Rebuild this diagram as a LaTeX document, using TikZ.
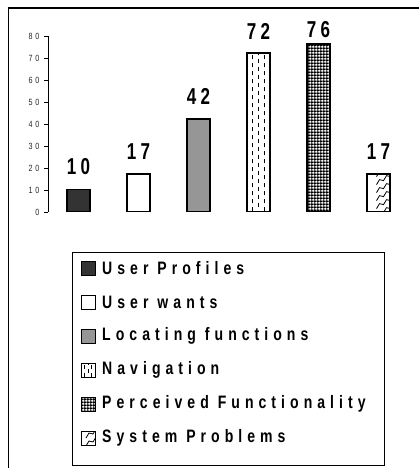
\documentclass[tikz,border=0pt]{standalone}
\usepackage{fontspec}
\setmainfont{Liberation Sans}
\newfontfamily\valfont[FakeStretch=0.74,LetterSpace=19]{Liberation Sans}
\newfontfamily\keyfont[FakeStretch=0.78,LetterSpace=28]{Liberation Sans}
\newfontfamily\tickfont[FakeStretch=0.8,LetterSpace=30]{Liberation Sans}
\usetikzlibrary{positioning,calc,patterns.meta}

\definecolor{darkbar}{HTML}{333333}
\definecolor{midbar}{HTML}{969696}

\tikzdeclarepattern{
  name=finechecker,
  type=uncolored,
  bottom left={(0pt,0pt)},
  top right={(2.8pt,2.8pt)},
  tile size={(2.8pt,2.8pt)},
  code={\fill (0pt,0pt) rectangle (2.8pt,1.5pt);
        \fill (0pt,1.5pt) rectangle (1.5pt,2.8pt);}
}

\begin{document}
\begin{tikzpicture}[
  x=1pt, y=-1pt,
  bar/.style    ={draw=black,line width=1.3pt,minimum width=23pt,inner sep=0pt,anchor=south},
  val/.style    ={font=\valfont\bfseries\fontsize{23}{23}\selectfont,inner sep=0pt},
  ticklbl/.style={font=\tickfont\fontsize{9}{9}\selectfont,anchor=east,inner sep=0pt,text=black!85},
  keytext/.style={font=\keyfont\bfseries\fontsize{18}{18}\selectfont,anchor=west,inner sep=0pt},
  keybox/.style ={draw=black,line width=0.8pt,minimum size=14pt,inner sep=0pt},
  dashfill/.style={path picture={
    \foreach \f/\p in {0.22/0,0.5/4,0.78/0}{
      \draw[line width=0.9pt,dash pattern=on 4pt off 4pt,dash phase=\p pt]
        ($(path picture bounding box.south west)!\f!(path picture bounding box.south east)$) --
        ($(path picture bounding box.north west)!\f!(path picture bounding box.north east)$);}}},
  wavefill/.style={path picture={
    \begin{scope}[shift={(path picture bounding box.south west)}]
      \foreach \s in {-48,-40,...,48}{
        \draw[line width=0.8pt] (-2pt,\s pt) \foreach \i in {1,...,5}{ -- ++(3pt,5pt) -- ++(4pt,-1pt)};}
    \end{scope}}}]

\useasboundingbox (0,0) rectangle (419,468);

%---------------- frame ----------------
\draw[line width=1pt] (8,468) -- (8,8);
\draw[line width=1.8pt] (7.5,8) -- (419,8);

%---------------- value axis ----------------
\draw[line width=0.8pt] (48,36) -- (48,212);
\foreach \v in {0,10,...,80}{
  \draw[line width=0.8pt] (44,212-2.2*\v) -- (48,212-2.2*\v);
  \node[ticklbl] (t\v) at (39.5,212-2.2*\v) {\v};}

%---------------- bars ----------------
\node[bar,fill=darkbar,minimum height=22pt]   (b1) at (78.5,212) {};
\node[bar,fill=white,minimum height=37.4pt]   (b2) at (138.5,212) {};
\node[bar,fill=midbar,minimum height=92.4pt]  (b3) at (198.5,212) {};
\node[bar,fill=white,dashfill,minimum height=158.4pt] (b4) at (258.5,212) {};
\node[bar,fill=white,pattern=finechecker,minimum height=167.2pt] (b5) at (318.5,212) {};
\node[bar,fill=white,wavefill,minimum height=37.4pt] (b6) at (378.5,212) {};

\node[val,above=14pt of b1] (v1) {10};
\node[val,above=14pt of b2] (v2) {17};
\node[val,above=14pt of b3] (v3) {42};
\node[val,above=13pt of b4] (v4) {72};
\node[val,above=6pt of b5]  (v5) {76};
\node[val,above=14pt of b6] (v6) {17};

%---------------- legend ----------------
\draw[line width=0.8pt] (72,252) rectangle (384,465);
\node[keybox,fill=darkbar]                (k1) at (88,268) {};
\node[keybox,fill=white]                  (k2) at (88,302) {};
\node[keybox,fill=midbar]                 (k3) at (88,336) {};
\node[keybox,fill=white,dashfill]         (k4) at (88,370) {};
\node[keybox,fill=white,pattern=finechecker] (k5) at (88,404) {};
\node[keybox,fill=white,wavefill]         (k6) at (88,438) {};
\node[keytext] (l1) at (102,268) {User Profiles};
\node[keytext] (l2) at (102,302) {User wants};
\node[keytext] (l3) at (102,336) {Locating functions};
\node[keytext] (l4) at (102,370) {Navigation};
\node[keytext] (l5) at (102,404) {Perceived Functionality};
\node[keytext] (l6) at (102,438) {System Problems};

\end{tikzpicture}
\end{document}
